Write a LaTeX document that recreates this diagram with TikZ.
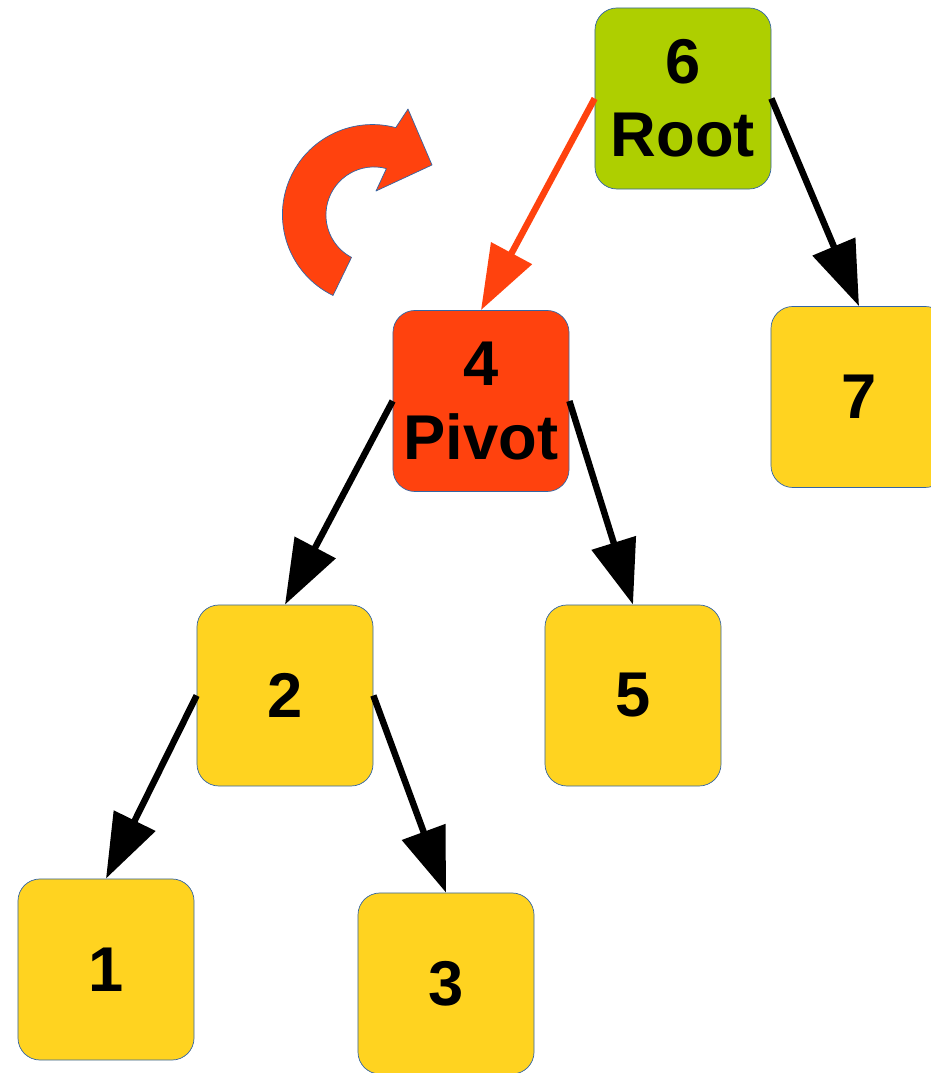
\documentclass[tikz,border=0pt]{standalone}
\usepackage{fontspec}
\setmainfont{Liberation Sans}
\usetikzlibrary{arrows.meta}

\definecolor{rootgreen}{RGB}{174,207,0}
\definecolor{pivotorange}{RGB}{255,66,14}
\definecolor{keyyellow}{RGB}{255,211,32}
\definecolor{rimblue}{RGB}{52,101,164}

\begin{document}
\begin{tikzpicture}[x=.025cm, y=.025cm,
  key/.style={draw=rimblue, line width=.5pt, fill=keyyellow,
    rounded corners=.55cm, minimum width=4.4cm, minimum height=4.525cm,
    inner sep=0pt, align=center, font=\fontsize{45}{52}\selectfont\bfseries},
  link/.style={line width=4.6pt, -{Triangle[length=46pt,width=32pt]}}]
  \useasboundingbox (0,0) rectangle (931,1073);

  % the tree
  \node[key, fill=rootgreen] (root) at (683,974.5) {6\\Root};
  \node[key, fill=pivotorange] (pivot) at (481,672) {4\\Pivot};
  \node[key] (k7) at (859,676) {7};
  \node[key] (k2) at (285,377.5) {2};
  \node[key] (k5) at (633,377.5) {5};
  \node[key] (k1) at (106,103.5) {1};
  \node[key] (k3) at (446,89.5) {3};

  \draw[link, pivotorange] (root.west) -- (pivot.north);
  \draw[link] (root.east) -- (k7.north);
  \draw[link] (pivot.west) -- (k2.north);
  \draw[link] (pivot.east) -- (k5.north);
  \draw[link] (k2.west) -- (k1.north);
  \draw[link] (k2.east) -- (k3.north);

  % rotation sign
  \filldraw[fill=pivotorange, draw=rimblue, line width=.5pt, line join=round]
    (351.5,815.6) -- (333,777.5)
    arc[start angle=244, end angle=75, radius=2.25cm]
    -- (408,964) -- (432,908) -- (376,882) -- (386.4,904.4)
    arc[start angle=75, end angle=242, radius=1.2cm] -- cycle;
\end{tikzpicture}
\end{document}
